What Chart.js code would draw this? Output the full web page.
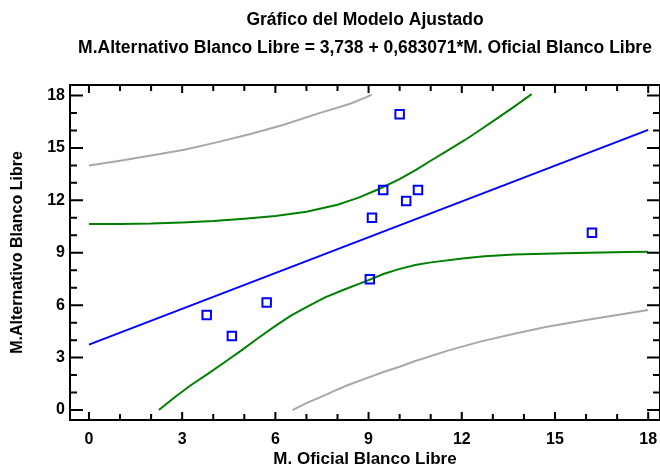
<!DOCTYPE html>
<html>
<head>
<meta charset="utf-8">
<script src="https://cdn.jsdelivr.net/npm/chart.js@4"></script>
<style>
  html, body { margin: 0; padding: 0; background: #fff; overflow: hidden; }
</style>
</head>
<body>
<canvas id="chart" width="668" height="468"></canvas>
<script>
// tick labels
const xTicks = [0, 3, 6, 9, 12, 15, 18];
const yTicks = [0, 3, 6, 9, 12, 15, 18];

// observations
const obsX = [3.79, 4.6, 5.72, 10.0, 9.47, 10.59, 10.21, 9.11, 16.19, 9.04];
const obsY = [5.44, 4.24, 6.16, 16.93, 12.59, 12.59, 11.96, 11.01, 10.15, 7.48];

// fitted line
const fitX = [0, 18];
const fitY = [3.74, 16.03];

// confidence limits (green)
const confUpX = [0, 1, 2, 3, 4, 5, 6, 7, 8, 8.66, 9.3, 9.95, 10.5, 11.01, 11.5, 12.09, 12.6, 13.15, 13.7, 14.25];
const confUpY = [10.65, 10.65, 10.67, 10.73, 10.82, 10.95, 11.1, 11.35, 11.75, 12.14, 12.62, 13.17, 13.72, 14.28, 14.8, 15.44, 16.04, 16.7, 17.38, 18.08];
const confLoX = [2.25, 2.78, 3.3, 3.85, 4.4, 4.92, 5.45, 5.99, 6.5, 7.06, 7.6, 8.18, 8.88, 9.5, 9.95, 10.5, 11.01, 12.09, 12.73, 13.69, 15.29, 17.32, 18];
const confLoY = [0, 0.76, 1.45, 2.1, 2.78, 3.43, 4.12, 4.8, 5.4, 5.95, 6.45, 6.87, 7.35, 7.8, 8.05, 8.3, 8.45, 8.68, 8.8, 8.9, 8.97, 9.04, 9.06];

// prediction limits (gray)
const predUpX = [0, 1, 2, 3.07, 4.14, 5.2, 6.27, 7.34, 8.41, 8.95, 9.1];
const predUpY = [14.0, 14.26, 14.56, 14.89, 15.33, 15.8, 16.33, 16.95, 17.53, 17.92, 18.05];
const predLoX = [6.55, 7.0, 7.49, 7.9, 8.34, 8.9, 9.41, 10.0, 10.48, 11.55, 12.62, 13.69, 14.7, 16, 17, 18];
const predLoY = [0, 0.4, 0.77, 1.1, 1.43, 1.8, 2.13, 2.48, 2.79, 3.4, 3.93, 4.37, 4.75, 5.15, 5.44, 5.72];

const FONT = "'Liberation Sans', Arial, sans-serif";

function pts(xs, ys) {
  return xs.map((v, i) => ({ x: v, y: ys[i] }));
}

function lineSet(xs, ys, color) {
  return {
    data: pts(xs, ys),
    showLine: true,
    borderColor: color,
    borderWidth: 2,
    pointRadius: 0,
    fill: false,
    tension: 0
  };
}

// frame with ticks on all four sides
const frame = {
  id: 'frame',
  afterDatasetsDraw(chart) {
    const { ctx, chartArea: a, scales: { x, y } } = chart;
    ctx.save();
    ctx.strokeStyle = '#000';
    ctx.lineWidth = 2;
    ctx.strokeRect(a.left, a.top, a.right - a.left, a.bottom - a.top);
    ctx.beginPath();
    for (let v = 0; v <= 18; v++) {
      const px = x.getPixelForValue(v);
      const lx = v % 3 === 0 ? 8 : 6;
      ctx.moveTo(px, a.bottom); ctx.lineTo(px, a.bottom - lx);
      ctx.moveTo(px, a.top); ctx.lineTo(px, a.top + lx);
      const py = y.getPixelForValue(v);
      const ly = v % 3 === 0 ? 13 : 7;
      ctx.moveTo(a.left, py); ctx.lineTo(a.left + ly, py);
      ctx.moveTo(a.right, py); ctx.lineTo(a.right - ly, py);
    }
    ctx.stroke();
    ctx.restore();
  }
};

new Chart(document.getElementById('chart'), {
  type: 'scatter',
  data: {
    datasets: [
      {
        data: pts(obsX, obsY),
        pointStyle: 'rect',
        pointRadius: 6,
        pointBorderWidth: 2,
        pointBorderColor: '#0000ff',
        pointBackgroundColor: 'rgba(0,0,0,0)',
        showLine: false
      },
      lineSet(fitX, fitY, '#0000ff'),
      lineSet(confUpX, confUpY, '#008000'),
      lineSet(confLoX, confLoY, '#008000'),
      lineSet(predUpX, predUpY, '#a8a8a8'),
      lineSet(predLoX, predLoY, '#a8a8a8')
    ]
  },
  options: {
    responsive: false,
    animation: false,
    devicePixelRatio: 1,
    layout: { padding: { left: 0, right: 5, top: 0, bottom: 0 } },
    plugins: {
      legend: { display: false },
      tooltip: { enabled: false },
      title: {
        display: true,
        fullSize: false,
        text: ['Gráfico del Modelo Ajustado',
               'M.Alternativo Blanco Libre = 3,738 + 0,683071*M. Oficial Blanco Libre'],
        color: '#000',
        font: { family: FONT, size: 17.5, weight: 'bold', lineHeight: 1.6 },
        padding: { top: 6, bottom: 23 }
      }
    },
    scales: {
      x: {
        type: 'linear',
        min: -0.61,
        max: 18.38,
        afterBuildTicks: s => { s.ticks = xTicks.map(v => ({ value: v })); },
        afterFit: s => { s.height = 48; },
        grid: { display: false, drawTicks: false },
        border: { display: false },
        ticks: {
          autoSkip: false, maxRotation: 0, padding: 10, color: '#000',
          font: { family: FONT, size: 16, weight: 'bold' }
        },
        title: {
          display: true,
          text: 'M. Oficial Blanco Libre',
          color: '#000',
          font: { family: FONT, size: 17, weight: 'bold', lineHeight: 1 },
          padding: { top: 0, bottom: 0 }
        }
      },
      y: {
        type: 'linear',
        min: -0.57,
        max: 18.6,
        afterBuildTicks: s => { s.ticks = yTicks.map(v => ({ value: v })); },
        afterFit: s => { s.width = 70; },
        grid: { display: false, drawTicks: false },
        border: { display: false },
        ticks: {
          autoSkip: false, padding: 5, color: '#000',
          font: { family: FONT, size: 16, weight: 'bold' }
        },
        title: {
          display: true,
          text: 'M.Alternativo Blanco Libre',
          color: '#000',
          font: { family: FONT, size: 16, weight: 'bold' },
          padding: { top: 8, bottom: 0 }
        }
      }
    }
  },
  plugins: [frame]
});
</script>
</body>
</html>
